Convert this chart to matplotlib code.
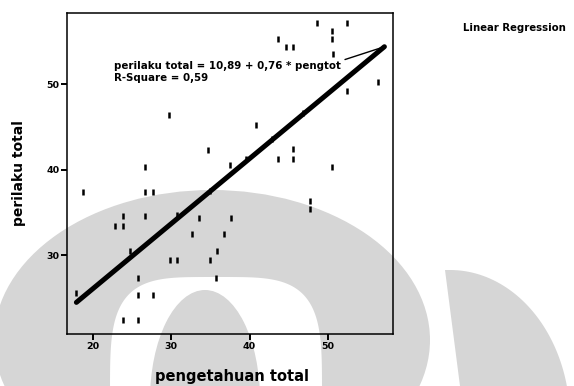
import numpy as np
import matplotlib.pyplot as plt
from matplotlib.patches import Ellipse, Polygon

plt.rcParams['font.family'] = ['DejaVu Sans']

# skor pengetahuan total vs perilaku total
pengetahuan = [48.6, 52.4, 50.5, 50.5, 43.6, 44.7, 45.5, 50.6, 56.4, 52.4,
               29.7, 40.8, 34.7, 37.5, 39.6, 42.9, 46.8, 43.6, 45.5, 45.5,
               50.5, 47.7, 47.7, 18.8, 26.7, 27.7, 23.9, 26.7, 22.8, 23.8,
               24.7, 33.6, 37.6, 32.7, 36.7, 35.8, 29.8, 30.8, 34.9, 25.7,
               35.7, 30.7, 34.9, 17.9, 25.7, 27.7, 23.8, 25.7, 26.7]
perilaku = [57.1, 57.1, 56.2, 55.3, 55.3, 54.3, 54.3, 53.5, 50.2, 49.2,
            46.4, 45.2, 42.3, 40.5, 41.3, 43.6, 46.6, 41.2, 42.4, 41.2,
            40.3, 36.3, 35.4, 37.4, 37.4, 37.4, 34.6, 34.6, 33.4, 33.4,
            30.5, 34.3, 34.3, 32.5, 32.5, 30.5, 29.4, 29.4, 29.4, 27.4,
            27.4, 34.7, 37.5, 25.6, 25.4, 25.4, 22.4, 22.4, 40.3]

intercept = 10.89
slope = 0.76
r_square = 0.59
fit_x = [17.9, 57.2]

xticks = [20, 30, 40, 50]
yticks = [30, 40, 50]

fig = plt.figure(figsize=(5.74, 3.86), dpi=100)

# watermark di belakang grafik (koordinat piksel)
bg = fig.add_axes([0, 0, 1, 1], zorder=0)
bg.set_xlim(0, 574)
bg.set_ylim(386, 0)
bg.axis('off')
abu = '#d6d6d6'
bg.add_patch(Ellipse((212, 340), 436, 300, color=abu, lw=0))
# lengkung putih (superellipse)
t = np.linspace(0, 2*np.pi, 300)
n = 4
px = 216 + 106*np.sign(np.cos(t))*np.abs(np.cos(t))**(2/n)
py = 400 + 123*np.sign(np.sin(t))*np.abs(np.sin(t))**(2/n)
bg.add_patch(Polygon(np.column_stack([px, py]), color='white', lw=0))
bg.add_patch(Ellipse((205, 400), 110, 220, color=abu, lw=0))
# bentuk kanan
a = np.linspace(np.pi/2, -0.25, 60)
kx = list(450 + 120*np.cos(a)) + [574, 460, 445]
ky = list(420 - 150*np.sin(a)) + [386, 386, 270]
bg.add_patch(Polygon(np.column_stack([kx, ky]), color=abu, lw=0))

ax = fig.add_axes([0.1167, 0.1347, 0.568, 0.8316], zorder=1)
ax.set_facecolor('none')

ax.plot(pengetahuan, perilaku, linestyle='none', marker='|', ms=4,
        mew=1.8, color='black')

fx = np.array(fit_x)
ax.plot(fx, intercept + slope*fx, color='black', lw=3.6,
        solid_capstyle='round')

teks = ('perilaku total = ' + f'{intercept:.2f}'.replace('.', ',') + ' + '
        + f'{slope:.2f}'.replace('.', ',') + ' * pengtot\n'
        + 'R-Square = ' + f'{r_square:.2f}'.replace('.', ','))
ax.annotate(teks, xy=(fx[1], intercept + slope*fx[1]), xytext=(22.7, 51.4),
            textcoords='data', ha='left', va='center', fontsize=7.4,
            fontweight='bold', linespacing=1.3,
            arrowprops=dict(arrowstyle='-', color='black', lw=1,
                            relpos=(1, 1), shrinkA=1, shrinkB=0))

ax.set_xlim(16.7, 58.3)
ax.set_ylim(20.8, 58.3)
ax.set_xticks(xticks)
ax.set_yticks(yticks)
ax.tick_params(direction='out', length=4, width=1.4, labelsize=6.8, pad=1.5)
for lab in ax.get_xticklabels() + ax.get_yticklabels():
    lab.set_fontweight('bold')
for s in ax.spines.values():
    s.set_linewidth(1.1)

ax.set_xlabel('pengetahuan total', fontsize=10.5, fontweight='bold')
ax.set_ylabel('perilaku total', fontsize=10, fontweight='bold')
ax.xaxis.set_label_coords(0.506, -0.11)
ax.yaxis.set_label_coords(-0.125, 0.5)

fig.text(0.807, 0.927, 'Linear Regression', fontsize=7.3, fontweight='bold',
         ha='left', va='center')

plt.savefig('out.png', dpi=100)
